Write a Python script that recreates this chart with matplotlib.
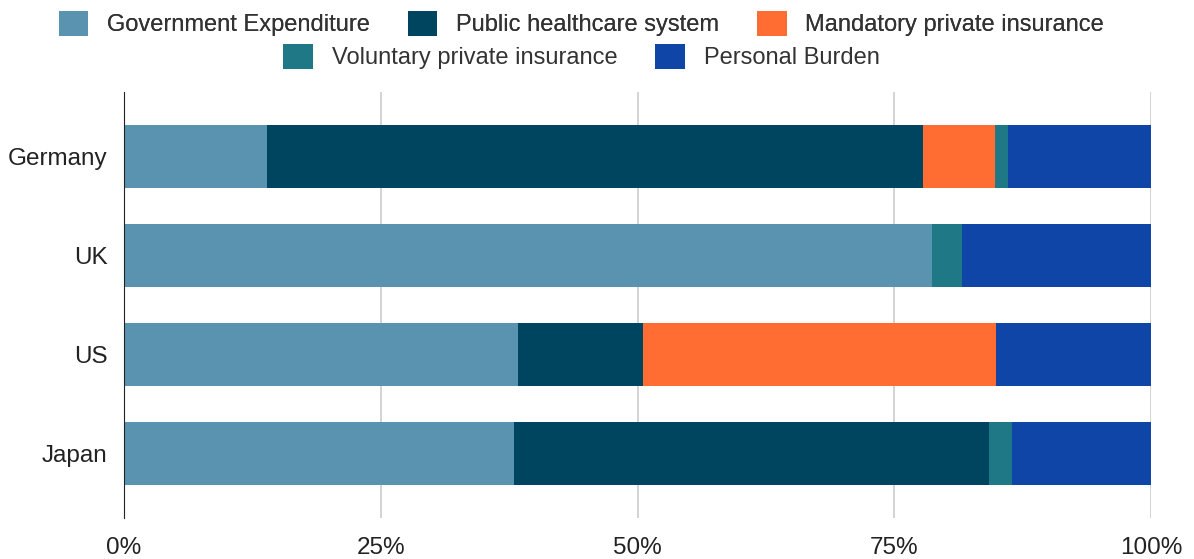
import matplotlib.pyplot as plt
from matplotlib.patches import Patch
import numpy as np

plt.rcParams['font.family'] = ['Liberation Sans', 'DejaVu Sans']

# data (percent of health spending)
countries = ['Germany', 'UK', 'US', 'Japan']
series = ['Government Expenditure', 'Public healthcare system', 'Mandatory private insurance',
          'Voluntary private insurance', 'Personal Burden']
gov = [13.9, 78.7, 38.4, 38.0]
public = [63.9, 0.0, 12.1, 46.2]
mandatory = [7.0, 0.0, 34.4, 0.0]
voluntary = [1.3, 2.9, 0.0, 2.3]
personal = [13.9, 18.4, 15.1, 13.5]
colors = ['#5a93b0', '#00455f', '#ff6d33', '#1e7886', '#1045a8']

fig = plt.figure(figsize=(11.94, 5.59), dpi=100)
ax = fig.add_axes([0.1039, 0.0733, 0.8601, 0.7621])

y = np.arange(len(countries))
left = np.zeros(len(countries))
for vals, c in zip([gov, public, mandatory, voluntary, personal], colors):
    vals = np.array(vals)
    ax.barh(y, vals, left=left, height=0.64, color=c, zorder=3)
    left += vals

ax.set_ylim(3.65, -0.65)
ax.set_xlim(0, 100)
ax.set_yticks(y)
ax.set_yticklabels(countries, fontsize=17.5, color='#222222')
ax.set_xticks([0, 25, 50, 75, 100])
ax.set_xticklabels(['0%', '25%', '50%', '75%', '100%'], fontsize=17.5, color='#222222')
ax.tick_params(length=0)
ax.tick_params(axis='x', pad=14)
ax.tick_params(axis='y', pad=12)
ax.grid(axis='x', color='#cccccc', linewidth=1.2, zorder=0)
for s in ['top', 'right', 'bottom']:
    ax.spines[s].set_visible(False)
ax.spines['left'].set_color('#222222')
ax.spines['left'].set_zorder(4)

handles = [Patch(facecolor=c, edgecolor='none') for c in colors]
leg1 = fig.legend(handles[:3], series[:3], loc='center', bbox_to_anchor=(0.487, 0.958), ncol=3,
                  frameon=False, fontsize=17, handlelength=1.25, handleheight=1.25,
                  columnspacing=1.6, handletextpad=0.8, labelcolor='#333333')
fig.add_artist(leg1)
fig.legend(handles[3:], series[3:], loc='center', bbox_to_anchor=(0.487, 0.899), ncol=2,
           frameon=False, fontsize=17, handlelength=1.25, handleheight=1.25,
           columnspacing=1.6, handletextpad=0.8, labelcolor='#333333')

fig.savefig('out.png', dpi=100)
